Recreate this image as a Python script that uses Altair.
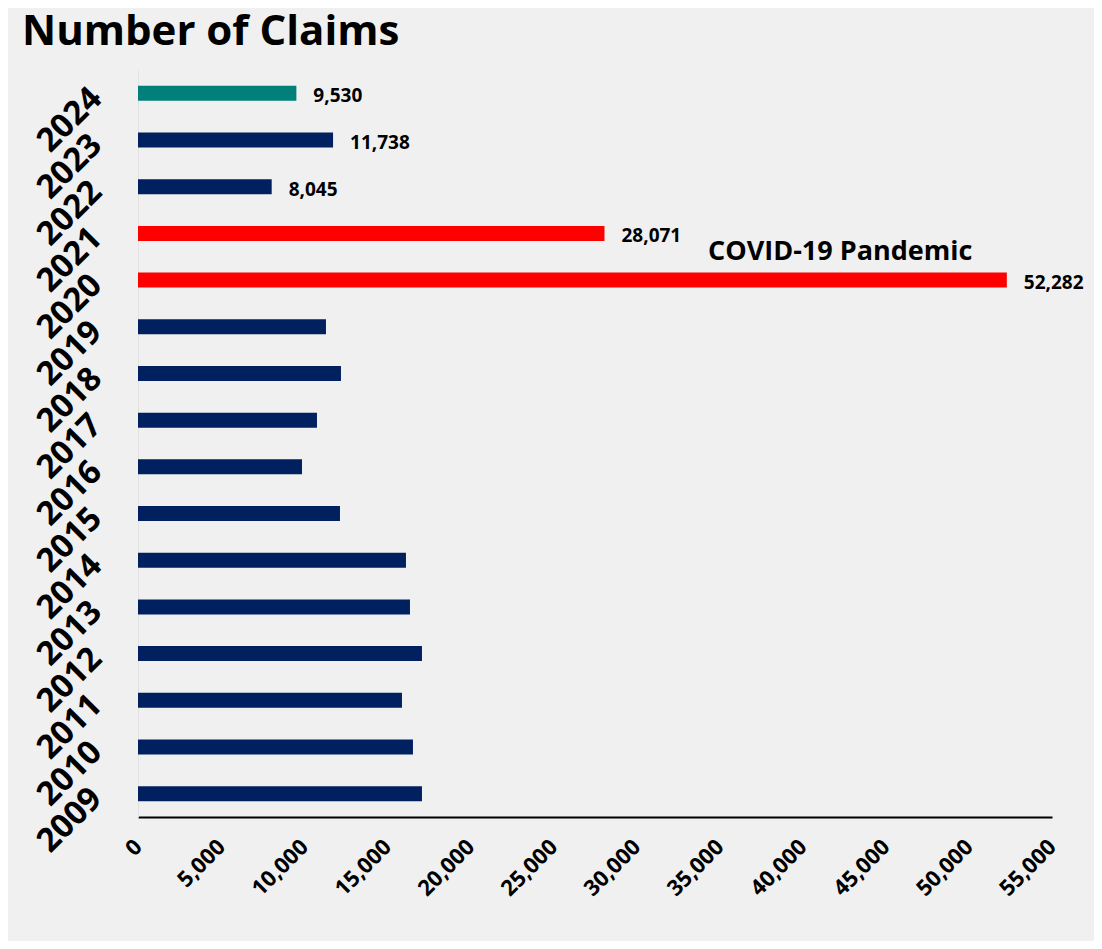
import altair as alt
import pandas as pd

years = [str(y) for y in range(2009, 2025)]
claims = [17088, 16546, 15884, 17088, 16366, 16125, 12154, 9868,
          10770, 12214, 11311, 52282, 28071, 8045, 11738, 9530]
groups = ["Normal"] * 11 + ["COVID", "COVID", "Normal", "Normal", "Current"]
show_label = [False] * 11 + [True] * 5

x_ticks = list(range(0, 55001, 5000))

note_text = ["COVID-19 Pandemic"]
note_year = ["2020"]
note_x = [34300]

df = pd.DataFrame({"Year": years, "Claims": claims, "Group": groups, "Show": show_label})
note_df = pd.DataFrame({"Year": note_year, "X": note_x, "Text": note_text})

FONT = "Open Sans"
year_order = list(reversed(years))

y_enc = alt.Y("Year:N", sort=year_order, title=None,
              scale=alt.Scale(paddingInner=0, paddingOuter=0),
              axis=alt.Axis(labelAngle=-45, labelAlign="right", labelBaseline="middle",
                            labelFontSize=33, labelFont=FONT, labelFontWeight="bold",
                            labelColor="black", ticks=False, labelPadding=42,
                            domainColor="#e2e2e2", domainWidth=1, grid=False))
x_enc = alt.X("Claims:Q", title=None,
              scale=alt.Scale(domain=[0, 55000], nice=False),
              axis=alt.Axis(values=x_ticks, format=",d", labelAngle=-45, labelAlign="right",
                            labelBaseline="middle", labelFontSize=22, labelFont=FONT,
                            labelFontWeight="bold", labelColor="black", ticks=False,
                            labelPadding=26, domainColor="black", domainWidth=2,
                            grid=False, labelOverlap=False))

bars = alt.Chart(df).mark_bar(height=15).encode(
    y=y_enc,
    x=x_enc,
    color=alt.Color("Group:N", legend=None,
                    scale=alt.Scale(domain=["Normal", "COVID", "Current"],
                                    range=["#002060", "#ff0000", "#008078"])),
)

labels = alt.Chart(df).transform_filter("datum.Show").mark_text(
    align="left", baseline="middle", dx=17, dy=3, fontSize=19, font=FONT,
    fontWeight="bold", color="black"
).encode(
    y=alt.Y("Year:N", sort=year_order),
    x=alt.X("Claims:Q"),
    text=alt.Text("Claims:Q", format=",d"),
)

note = alt.Chart(note_df).mark_text(
    align="left", baseline="middle", dy=-28, fontSize=27, font=FONT,
    fontWeight="bold", color="black"
).encode(
    y=alt.Y("Year:N", sort=year_order),
    x=alt.X("X:Q"),
    text="Text:N",
)

chart = alt.layer(bars, labels, note).properties(
    width=914, height=747,
    autosize=alt.AutoSizeParams(type="none"),
    padding={"left": 130, "top": 62, "right": 42, "bottom": 124},
    background="#f0f0f0",
    title=alt.Title("Number of Claims", anchor="start", frame="group", dx=-116,
                    fontSize=42, font=FONT, fontWeight="bold", color="black",
                    baseline="alphabetic", offset=0, dy=17),
).configure_view(strokeWidth=0)

chart.save("out.html", embed_options={"renderer": "svg", "actions": False})
